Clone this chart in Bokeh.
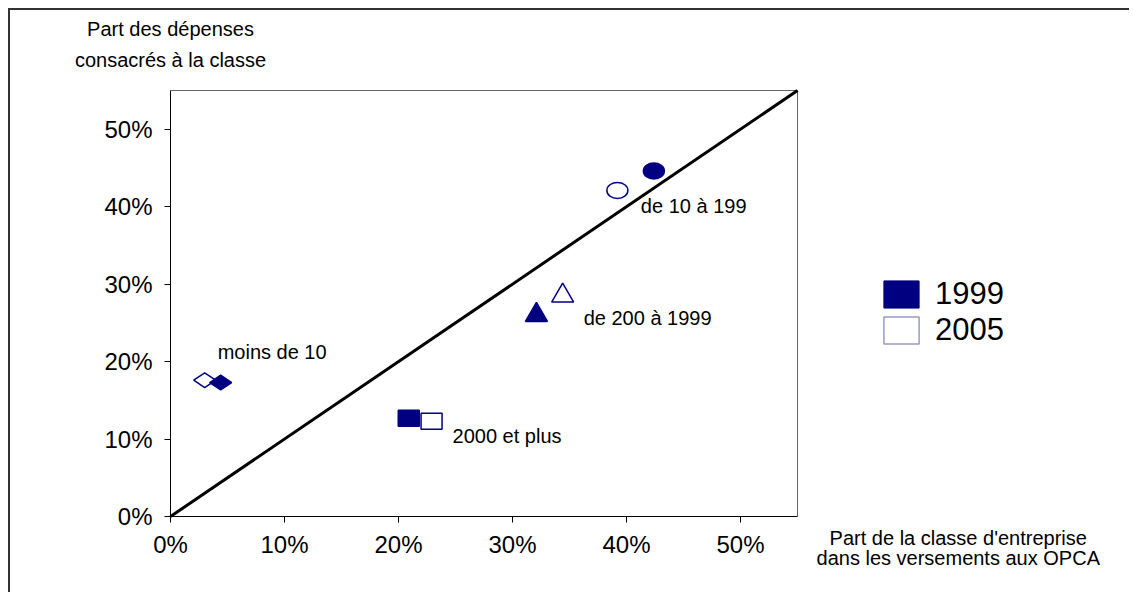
import math
from bokeh.plotting import figure
from bokeh.models import (Legend, LegendItem, NumeralTickFormatter, FixedTicker,
                          Range1d, Label, ColumnDataSource, LinearAxis)
from bokeh.core.properties import value
from bokeh.embed import file_html
from bokeh.resources import INLINE

# ---- data (shares, fractions) ----
categories = ["moins de 10", "de 10 à 199", "de 200 à 1999", "2000 et plus"]
x_1999 = [0.044, 0.424, 0.321, 0.209]
y_1999 = [0.173, 0.446, 0.260, 0.127]
x_2005 = [0.030, 0.392, 0.344, 0.229]
y_2005 = [0.176, 0.421, 0.285, 0.123]
ticks = [0.0, 0.1, 0.2, 0.3, 0.4, 0.5]
axis_max = 0.55
years = ["1999", "2005"]

NAVY = "#000080"
FONT = "Liberation Sans"

# ---- layout (pixels on the canvas) ----
W, H = 1121, 584
PL, PR = 160, 787      # plot area left / right
PT, PB = 80, 506       # plot area top / bottom
sx = (PR - PL) / axis_max
sy = (PB - PT) / axis_max
xr = Range1d(-PL / sx, (W - PL) / sx)
yr = Range1d(-(H - PB) / sy, PB / sy)

p = figure(width=W, height=H, output_backend="svg", toolbar_location=None,
           x_range=xr, y_range=yr, min_border=0, x_axis_location=None,
           y_axis_location=None)
p.styles = {"margin-left": "8px", "margin-top": "8px",
            "border-top": "2px solid #333333", "border-left": "2px solid #333333"}
p.outline_line_color = None
p.grid.visible = False
p.background_fill_color = "white"
p.border_fill_color = "white"

xa = LinearAxis(fixed_location=0, bounds=(0, axis_max))
ya = LinearAxis(fixed_location=0, bounds=(0, axis_max))
p.add_layout(xa, "below")
p.add_layout(ya, "left")
for ax in (xa, ya):
    ax.ticker = FixedTicker(ticks=ticks)
    ax.formatter = NumeralTickFormatter(format="0%")
    ax.major_label_text_font = FONT
    ax.major_label_text_font_size = "24px"
    ax.major_label_text_color = "black"
    ax.axis_line_color = "black"
    ax.major_tick_line_color = "black"
    ax.major_tick_out = 6
    ax.major_tick_in = 0
    ax.minor_tick_line_color = None
xa.major_label_standoff = 8
ya.major_label_standoff = 12

# plot-area top and right edges
p.line([0, axis_max, axis_max], [axis_max, axis_max, 0], line_color="#666666",
       line_width=1)

# diagonal line
p.line([0, axis_max], [0, axis_max], line_color="black", line_width=3)

idx = {c: i for i, c in enumerate(categories)}

def pick(arr, cat):
    return [arr[idx[cat]]]

# 2005 (open) first, 1999 (filled) on top
for xs, ys, fill in ((x_2005, y_2005, "white"), (x_1999, y_1999, NAVY)):
    c = "moins de 10"
    p.scatter(pick(xs, c), pick(ys, c), marker="diamond", angle=math.pi / 2,
              size=22, fill_color=fill, line_color=NAVY, line_width=1.5)
    c = "de 10 à 199"
    p.ellipse(pick(xs, c), pick(ys, c), width=21, height=16,
              width_units="screen", height_units="screen",
              fill_color=fill, line_color=NAVY, line_width=1.5)
    c = "de 200 à 1999"
    p.scatter(pick(xs, c), pick(ys, c), marker="triangle", size=22,
              fill_color=fill, line_color=NAVY, line_width=1.5)
    c = "2000 et plus"
    p.rect(pick(xs, c), pick(ys, c), width=21, height=16,
           width_units="screen", height_units="screen",
           fill_color=fill, line_color=NAVY, line_width=1.5)

# category labels anchored to the points, offset in pixels
anchors = {
    "moins de 10": (x_1999, y_1999, -3, -31),
    "de 10 à 199": (x_1999, y_1999, -13, 35),
    "de 200 à 1999": (x_2005, y_2005, 21, 22),
    "2000 et plus": (x_2005, y_2005, 21, 15),
}
lab = dict(x=[], y=[], t=[], dx=[], dy=[])
for c in categories:
    xs, ys, dx, dy = anchors[c]
    lab["x"].append(xs[idx[c]])
    lab["y"].append(ys[idx[c]])
    lab["t"].append(c)
    lab["dx"].append(dx)
    lab["dy"].append(dy)
p.text(x="x", y="y", text="t", x_offset="dx", y_offset="dy",
       source=ColumnDataSource(lab), text_font=value(FONT),
       text_font_size="20px", text_align="left", text_baseline="middle",
       text_color="black")

# axis titles
for txt, yy in (("Part des dépenses", 0.629), ("consacrés à la classe", 0.590)):
    p.add_layout(Label(x=0, y=yy, text=txt, text_font=FONT, text_font_size="20px",
                       text_align="center", text_baseline="middle", text_color="black"))
for txt, yy in (("Part de la classe d'entreprise", -0.0284),
                ("dans les versements aux OPCA", -0.053)):
    p.add_layout(Label(x=0.691, y=yy, text=txt, text_font=FONT, text_font_size="20px",
                       text_align="center", text_baseline="middle", text_color="black"))

# legend swatches (renderers without visible marks of their own)
nan = float("nan")
r99 = p.quad(left=[nan], right=[nan], top=[nan], bottom=[nan],
             fill_color=NAVY, line_color=NAVY)
r05 = p.quad(left=[nan], right=[nan], top=[nan], bottom=[nan], fill_color="white",
             line_color="#9a9ac0", line_width=1.5)
legend = Legend(items=[LegendItem(label=years[0], renderers=[r99]),
                       LegendItem(label=years[1], renderers=[r05])],
                location=(869, 246), glyph_width=44, glyph_height=34,
                label_height=34, label_standoff=12, spacing=0, padding=0, margin=0,
                label_text_font=FONT, label_text_font_size="31px",
                label_text_color="black",
                border_line_color=None, background_fill_alpha=0)
p.add_layout(legend, "center")

open("out.html", "w").write(file_html(p, INLINE))
